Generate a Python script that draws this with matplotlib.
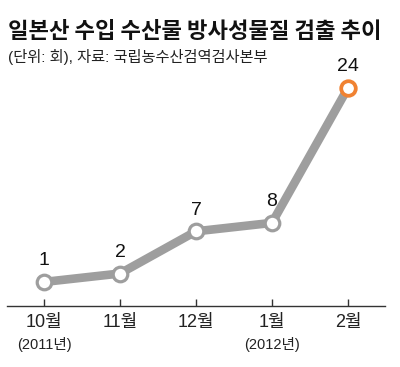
import matplotlib
matplotlib.use("Agg")
import matplotlib.pyplot as plt
import matplotlib.transforms as mtransforms

months = ["10월", "11월", "12월", "1월", "2월"]
years = ["(2011년)", "", "", "(2012년)", ""]
counts = [1, 2, 7, 8, 24]

title = "일본산 수입 수산물 방사성물질 검출 추이"
subtitle = "(단위: 회), 자료: 국립농수산검역검사본부"

fam = ["Liberation Sans", "Noto Sans CJK KR", "DejaVu Sans"]
plt.rcParams["font.family"] = fam

W, H = 400, 367
fig = plt.figure(figsize=(W / 100, H / 100), dpi=100)

# axes box in pixels (from top-left)
left, right, top, bottom = 7, 385, 60, 306
ax = fig.add_axes([left / W, 1 - bottom / H, (right - left) / W, (bottom - top) / H])

x = list(range(len(counts)))
ax.plot(x, counts, color="#9e9e9e", lw=6.2, solid_capstyle="round", zorder=2)
ax.plot(x[:-1], counts[:-1], "o", ms=10.5, mfc="white", mec="#9e9e9e", mew=2.3, zorder=3)
ax.plot(x[-1:], counts[-1:], "o", ms=10.5, mfc="white", mec="#f08232", mew=2.7, zorder=3)

for xi, v in zip(x, counts):
    ax.annotate(str(v), (xi, v), xytext=(0, 9), textcoords="offset points",
                ha="center", va="bottom", fontsize=14, color="#111111")

ax.set_xlim(-0.487, 4.487)
ax.set_ylim(-1.85, 27.3)

for s in ["top", "right", "left"]:
    ax.spines[s].set_visible(False)
ax.spines["bottom"].set_color("#333333")
ax.spines["bottom"].set_linewidth(1.0)
ax.set_yticks([])
ax.set_xticks(x)
ax.set_xticklabels(months, fontsize=13, color="#222222")
ax.tick_params(axis="x", direction="in", length=5, width=1, color="#333333", pad=6)

trans = mtransforms.blended_transform_factory(ax.transData, fig.transFigure)
for xi, yr in zip(x, years):
    if yr:
        fig.text(xi, 1 - 344 / H, yr, transform=trans, ha="center", va="center",
                 fontsize=10.5, color="#222222")

fig.text(8 / W, 1 - 31 / H, title, fontsize=16, fontweight="bold", color="#111111",
         ha="left", va="center", family=["Noto Sans CJK KR", "DejaVu Sans"])
fig.text(8 / W, 1 - 57 / H, subtitle, fontsize=11, color="#222222",
         ha="left", va="center", family=["Liberation Sans", "Noto Sans CJK KR"])

fig.savefig("out.png", dpi=100)
